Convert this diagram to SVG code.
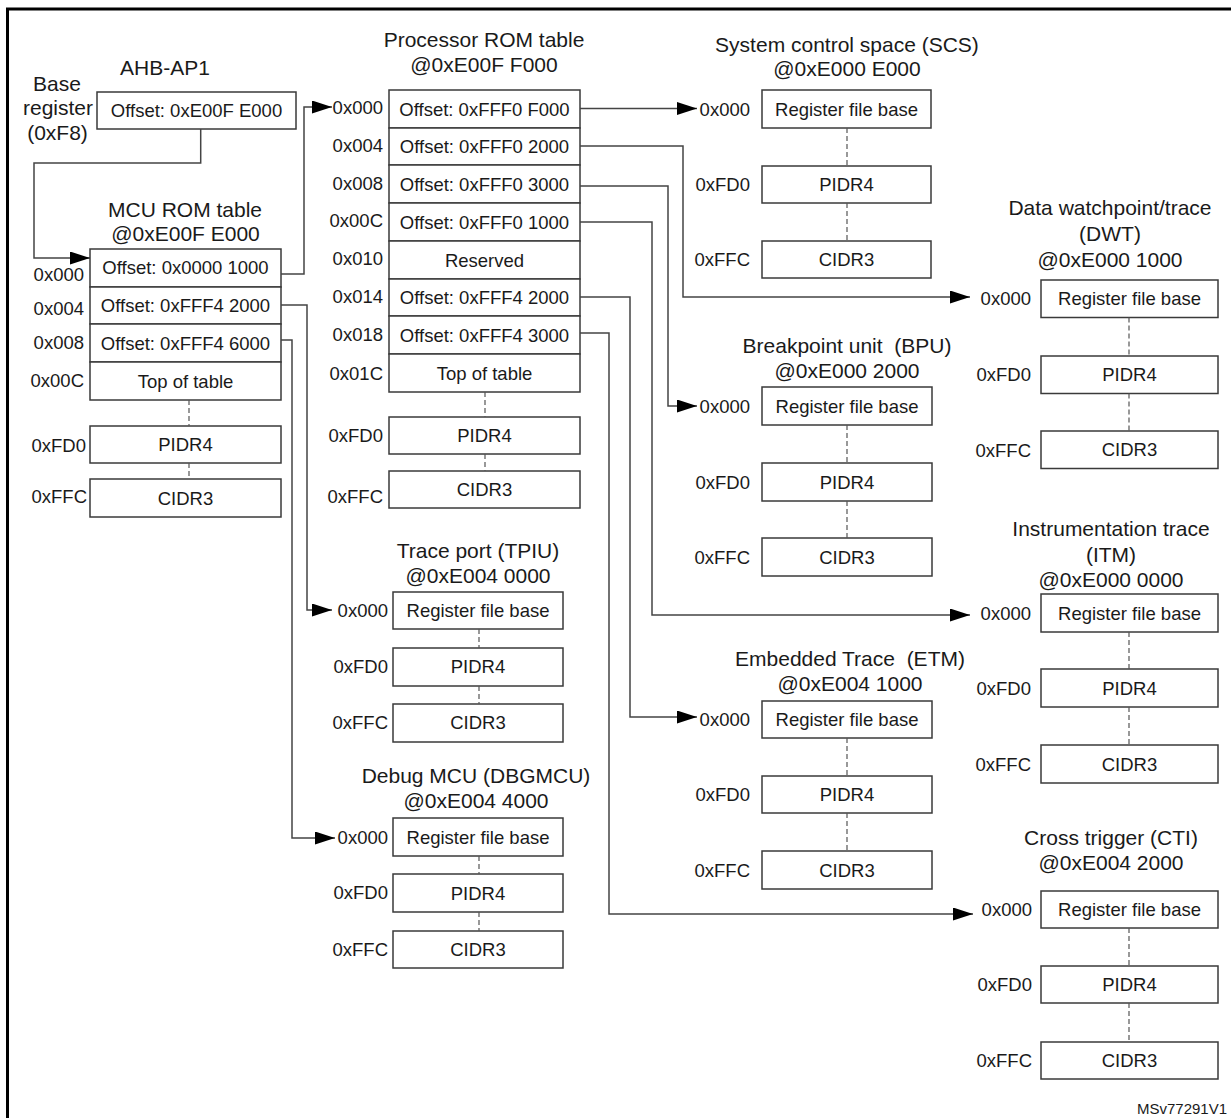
<svg xmlns="http://www.w3.org/2000/svg" width="1231" height="1118" viewBox="0 0 1231 1118">
<defs>
<style>
.box{fill:#fff;stroke:#3a3a3a;stroke-width:1.5}
.t{font-family:"Liberation Sans",Arial,sans-serif;font-size:18.5px;fill:#1a1a1a;text-anchor:middle}
.l{font-family:"Liberation Sans",Arial,sans-serif;font-size:18.5px;fill:#1a1a1a;text-anchor:end}
.h{font-family:"Liberation Sans",Arial,sans-serif;font-size:21px;fill:#1a1a1a;text-anchor:middle;white-space:pre}
.d{stroke:#555;stroke-width:1.2;stroke-dasharray:5 3;fill:none}
.c{fill:none;stroke:#444;stroke-width:1.5;marker-end:url(#ah)}
.f{fill:none;stroke:#000;stroke-width:3}
</style>
<marker id="ah" viewBox="0 0 20 13" refX="20" refY="6.5" markerWidth="20" markerHeight="13" markerUnits="userSpaceOnUse" orient="auto">
<path d="M0,0 L20,6.5 L0,13 z" fill="#000"/>
</marker>
</defs>
<rect width="1231" height="1118" fill="#fff"/>
<path class="f" d="M7.5,1118 V9 H1231"/>

<g id="ahb-ap1">
<text class="h" x="165" y="75">AHB-AP1</text>
<text class="h" x="57" y="91">Base</text>
<text class="h" x="58" y="115">register</text>
<text class="h" x="57.5" y="140">(0xF8)</text>
<rect class="box" x="97" y="92" width="199" height="37"/>
<text class="t" x="196.5" y="117">Offset: 0xE00F E000</text>
</g>

<g id="mcu-rom">
<text class="h" x="185" y="217">MCU ROM table</text>
<text class="h" x="185.5" y="241">@0xE00F E000</text>
<rect class="box" x="90" y="249" width="191" height="38"/>
<rect class="box" x="90" y="287" width="191" height="37"/>
<rect class="box" x="90" y="324" width="191" height="38"/>
<rect class="box" x="90" y="362" width="191" height="38"/>
<rect class="box" x="90" y="426" width="191" height="37"/>
<rect class="box" x="90" y="479" width="191" height="38"/>
<text class="t" x="185.5" y="274">Offset: 0x0000 1000</text>
<text class="t" x="185.5" y="312">Offset: 0xFFF4 2000</text>
<text class="t" x="185.5" y="349.5">Offset: 0xFFF4 6000</text>
<text class="t" x="185.5" y="387.5">Top of table</text>
<text class="t" x="185.5" y="451">PIDR4</text>
<text class="t" x="185.5" y="504.5">CIDR3</text>
<text class="l" x="84" y="281">0x000</text>
<text class="l" x="84" y="315">0x004</text>
<text class="l" x="84" y="349">0x008</text>
<text class="l" x="84" y="387">0x00C</text>
<text class="l" x="86" y="452">0xFD0</text>
<text class="l" x="87" y="503">0xFFC</text>
<path class="d" d="M189,400 V426 M189,463 V479"/>
</g>

<g id="processor-rom">
<text class="h" x="484" y="47">Processor ROM table</text>
<text class="h" x="484" y="72">@0xE00F F000</text>
<rect class="box" x="389" y="90" width="191" height="38"/>
<rect class="box" x="389" y="128" width="191" height="37"/>
<rect class="box" x="389" y="165" width="191" height="38"/>
<rect class="box" x="389" y="203" width="191" height="38"/>
<rect class="box" x="389" y="241" width="191" height="38"/>
<rect class="box" x="389" y="279" width="191" height="37"/>
<rect class="box" x="389" y="316" width="191" height="38"/>
<rect class="box" x="389" y="354" width="191" height="38"/>
<rect class="box" x="389" y="417" width="191" height="37"/>
<rect class="box" x="389" y="471" width="191" height="37"/>
<text class="t" x="484.5" y="115.5">Offset: 0xFFF0 F000</text>
<text class="t" x="484.5" y="153">Offset: 0xFFF0 2000</text>
<text class="t" x="484.5" y="190.5">Offset: 0xFFF0 3000</text>
<text class="t" x="484.5" y="228.5">Offset: 0xFFF0 1000</text>
<text class="t" x="484.5" y="266.5">Reserved</text>
<text class="t" x="484.5" y="304">Offset: 0xFFF4 2000</text>
<text class="t" x="484.5" y="341.5">Offset: 0xFFF4 3000</text>
<text class="t" x="484.5" y="379.5">Top of table</text>
<text class="t" x="484.5" y="442">PIDR4</text>
<text class="t" x="484.5" y="495.5">CIDR3</text>
<text class="l" x="383" y="114">0x000</text>
<text class="l" x="383" y="152">0x004</text>
<text class="l" x="383" y="190">0x008</text>
<text class="l" x="383" y="227">0x00C</text>
<text class="l" x="383" y="265">0x010</text>
<text class="l" x="383" y="303">0x014</text>
<text class="l" x="383" y="341">0x018</text>
<text class="l" x="383" y="380">0x01C</text>
<text class="l" x="383" y="442">0xFD0</text>
<text class="l" x="383" y="503">0xFFC</text>
<path class="d" d="M485,392 V417 M485,454 V471"/>
</g>

<g id="scs">
<text class="h" x="847" y="52">System control space (SCS)</text>
<text class="h" x="847" y="76">@0xE000 E000</text>
<rect class="box" x="762" y="90" width="169" height="38"/>
<rect class="box" x="762" y="166" width="169" height="37"/>
<rect class="box" x="762" y="241" width="169" height="37"/>
<text class="t" x="846.5" y="115.5">Register file base</text>
<text class="t" x="846.5" y="191">PIDR4</text>
<text class="t" x="846.5" y="266">CIDR3</text>
<text class="l" x="750" y="115.5">0x000</text>
<text class="l" x="750" y="191">0xFD0</text>
<text class="l" x="750" y="266">0xFFC</text>
<path class="d" d="M847,128 V166 M847,203 V241"/>
</g>

<g id="dwt">
<text class="h" x="1110" y="215">Data watchpoint/trace</text>
<text class="h" x="1110" y="241">(DWT)</text>
<text class="h" x="1110" y="267">@0xE000 1000</text>
<rect class="box" x="1041" y="280" width="177" height="37.5"/>
<rect class="box" x="1041" y="356" width="177" height="37.5"/>
<rect class="box" x="1041" y="431" width="177" height="37.5"/>
<text class="t" x="1129.5" y="305">Register file base</text>
<text class="t" x="1129.5" y="381">PIDR4</text>
<text class="t" x="1129.5" y="456">CIDR3</text>
<text class="l" x="1031" y="305">0x000</text>
<text class="l" x="1031" y="381">0xFD0</text>
<text class="l" x="1031" y="456.5">0xFFC</text>
<path class="d" d="M1129,317.5 V356 M1129,393.5 V431"/>
</g>

<g id="bpu">
<text class="h" x="847" y="353">Breakpoint unit  (BPU)</text>
<text class="h" x="847" y="378">@0xE000 2000</text>
<rect class="box" x="762" y="387" width="170" height="38"/>
<rect class="box" x="762" y="463" width="170" height="38"/>
<rect class="box" x="762" y="538" width="170" height="38"/>
<text class="t" x="847" y="412.5">Register file base</text>
<text class="t" x="847" y="488.5">PIDR4</text>
<text class="t" x="847" y="563.5">CIDR3</text>
<text class="l" x="750" y="412.5">0x000</text>
<text class="l" x="750" y="488.5">0xFD0</text>
<text class="l" x="750" y="563.5">0xFFC</text>
<path class="d" d="M847,425 V463 M847,501 V538"/>
</g>

<g id="itm">
<text class="h" x="1111" y="536">Instrumentation trace</text>
<text class="h" x="1111" y="562">(ITM)</text>
<text class="h" x="1111" y="587">@0xE000 0000</text>
<rect class="box" x="1041" y="594" width="177" height="38"/>
<rect class="box" x="1041" y="669" width="177" height="38"/>
<rect class="box" x="1041" y="745" width="177" height="38"/>
<text class="t" x="1129.5" y="619.5">Register file base</text>
<text class="t" x="1129.5" y="694.5">PIDR4</text>
<text class="t" x="1129.5" y="770.5">CIDR3</text>
<text class="l" x="1031" y="619.5">0x000</text>
<text class="l" x="1031" y="694.5">0xFD0</text>
<text class="l" x="1031" y="770.5">0xFFC</text>
<path class="d" d="M1129,632 V669 M1129,707 V745"/>
</g>

<g id="etm">
<text class="h" x="850" y="666">Embedded Trace  (ETM)</text>
<text class="h" x="850" y="691">@0xE004 1000</text>
<rect class="box" x="762" y="701" width="170" height="37"/>
<rect class="box" x="762" y="776" width="170" height="37"/>
<rect class="box" x="762" y="851" width="170" height="38"/>
<text class="t" x="847" y="726">Register file base</text>
<text class="t" x="847" y="801">PIDR4</text>
<text class="t" x="847" y="876.5">CIDR3</text>
<text class="l" x="750" y="726">0x000</text>
<text class="l" x="750" y="801">0xFD0</text>
<text class="l" x="750" y="876.5">0xFFC</text>
<path class="d" d="M847,738 V776 M847,813 V851"/>
</g>

<g id="cti">
<text class="h" x="1111" y="845">Cross trigger (CTI)</text>
<text class="h" x="1111" y="870">@0xE004 2000</text>
<rect class="box" x="1041" y="891" width="177" height="37"/>
<rect class="box" x="1041" y="966" width="177" height="37"/>
<rect class="box" x="1041" y="1042" width="177" height="37"/>
<text class="t" x="1129.5" y="916">Register file base</text>
<text class="t" x="1129.5" y="991">PIDR4</text>
<text class="t" x="1129.5" y="1067">CIDR3</text>
<text class="l" x="1032" y="916">0x000</text>
<text class="l" x="1032" y="991">0xFD0</text>
<text class="l" x="1032" y="1067">0xFFC</text>
<path class="d" d="M1129,928 V966 M1129,1003 V1042"/>
</g>

<g id="tpiu">
<text class="h" x="478" y="558">Trace port (TPIU)</text>
<text class="h" x="478" y="583">@0xE004 0000</text>
<rect class="box" x="393" y="592" width="170" height="37"/>
<rect class="box" x="393" y="648" width="170" height="38"/>
<rect class="box" x="393" y="704" width="170" height="38"/>
<text class="t" x="478" y="617">Register file base</text>
<text class="t" x="478" y="673">PIDR4</text>
<text class="t" x="478" y="729">CIDR3</text>
<text class="l" x="388" y="617">0x000</text>
<text class="l" x="388" y="673">0xFD0</text>
<text class="l" x="388" y="729">0xFFC</text>
<path class="d" d="M479,629 V648 M479,686 V704"/>
</g>

<g id="dbgmcu">
<text class="h" x="476" y="783">Debug MCU (DBGMCU)</text>
<text class="h" x="476" y="808">@0xE004 4000</text>
<rect class="box" x="393" y="818" width="170" height="38"/>
<rect class="box" x="393" y="874" width="170" height="38"/>
<rect class="box" x="393" y="931" width="170" height="37"/>
<text class="t" x="478" y="843.5">Register file base</text>
<text class="t" x="478" y="899.5">PIDR4</text>
<text class="t" x="478" y="956">CIDR3</text>
<text class="l" x="388" y="843.5">0x000</text>
<text class="l" x="388" y="899">0xFD0</text>
<text class="l" x="388" y="956">0xFFC</text>
<path class="d" d="M479,856 V874 M479,912 V931"/>
</g>

<g id="connectors">
<path class="c" d="M200.7,129 V163 H34 V258 H90"/>
<path class="c" d="M281,274 H304 V107 H332"/>
<path class="c" d="M281,305 H307 V610 H332"/>
<path class="c" d="M281,340 H292 V838 H335"/>
<path class="c" d="M580,108.5 H697"/>
<path class="c" d="M580,146 H683 V297 H970"/>
<path class="c" d="M580,186 H668 V406 H697"/>
<path class="c" d="M580,222 H652 V615 H970"/>
<path class="c" d="M580,297 H630 V717 H697"/>
<path class="c" d="M580,333 H609 V914 H973"/>
</g>

<text x="1137" y="1114" style="font-family:'Liberation Sans',Arial,sans-serif;font-size:15px;fill:#1a1a1a">MSv77291V1</text>
</svg>
